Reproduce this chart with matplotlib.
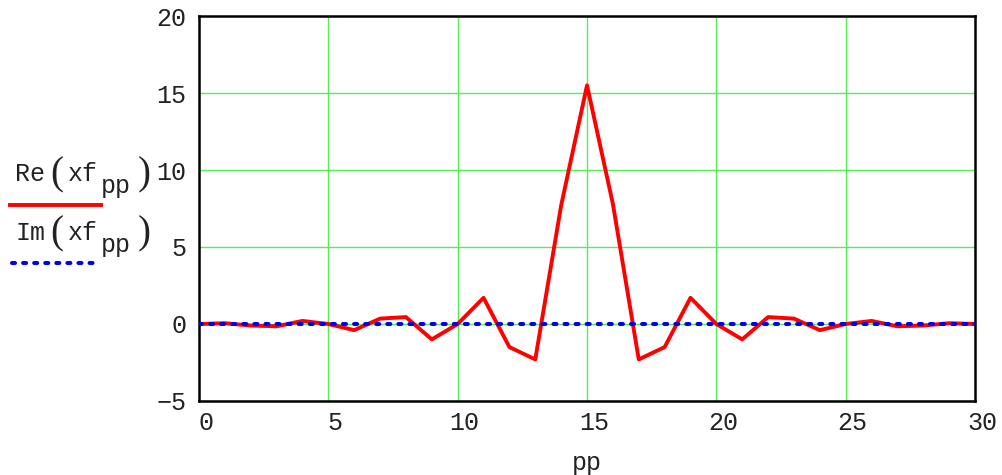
import matplotlib.pyplot as plt
from matplotlib.lines import Line2D
from matplotlib.transforms import ScaledTranslation

pp = list(range(31))
re_xf = [0.0, 0.05, -0.1, -0.15, 0.2, 0.0, -0.4, 0.35, 0.45, -1.0, 0.0,
         1.7, -1.5, -2.3, 7.7, 15.5, 7.8, -2.3, -1.5, 1.7, 0.0,
         -1.0, 0.45, 0.35, -0.4, 0.0, 0.2, -0.15, -0.1, 0.05, 0.0]
im_xf = [0.0] * 31

xticks = [0, 5, 10, 15, 20, 25, 30]
yticks = [-5, 0, 5, 10, 15, 20]

mono = 'Liberation Mono'
txtc = '#222222'
dots = (0, (0.75, 2.0))

fig = plt.figure(figsize=(10.02, 4.75), dpi=100)
ax = fig.add_axes([0.1986, 0.1558, 0.7745, 0.8105])

ax.plot(pp, re_xf, color='red', lw=2.8, zorder=3)
ax.plot(pp, im_xf, color='#0000ee', lw=2.9, linestyle=dots,
        dash_capstyle='round', zorder=4)

ax.set_xlim(0, 30)
ax.set_ylim(-5, 20)
ax.set_xticks(xticks)
ax.set_yticks(yticks)
ax.grid(True, color='#55ee55', lw=1.0)
ax.tick_params(length=0, labelsize=18, labelcolor=txtc)
ax.tick_params(axis='y', pad=9)
ax.tick_params(axis='x', pad=7)
for lab in ax.get_xticklabels() + ax.get_yticklabels():
    lab.set_family(mono)
# Mathcad puts the x labels a bit to the right of the gridline
shift = ScaledTranslation(7 / 100, 0, fig.dpi_scale_trans)
for lab in ax.get_xticklabels():
    lab.set_transform(lab.get_transform() + shift)
for s in ax.spines.values():
    s.set_linewidth(1.8)
    s.set_color('black')
ax.set_xlabel('pp', fontsize=18, family=mono, color=txtc, labelpad=12)

# legend drawn to the left of the axes, Mathcad style
def label(y, name):
    fig.text(0.015, y, name, fontsize=18, family=mono, color=txtc, va='baseline')
    fig.text(0.050, y + 0.013, '(', fontsize=28, family='Liberation Serif', color=txtc, va='center')
    fig.text(0.068, y, 'xf', fontsize=18, family=mono, color=txtc, va='baseline')
    fig.text(0.101, y - 0.026, 'pp', fontsize=18, family=mono, color=txtc, va='baseline')
    fig.text(0.137, y + 0.013, ')', fontsize=28, family='Liberation Serif', color=txtc, va='center')

label(0.619, 'Re')
label(0.495, 'Im')
fig.add_artist(Line2D([0.010, 0.101], [0.568, 0.568], color='red', lw=2.8))
fig.add_artist(Line2D([0.012, 0.095], [0.446, 0.446], color='#0000ee', lw=2.9,
                      linestyle=dots, dash_capstyle='round'))

fig.savefig('out.png', dpi=100)
